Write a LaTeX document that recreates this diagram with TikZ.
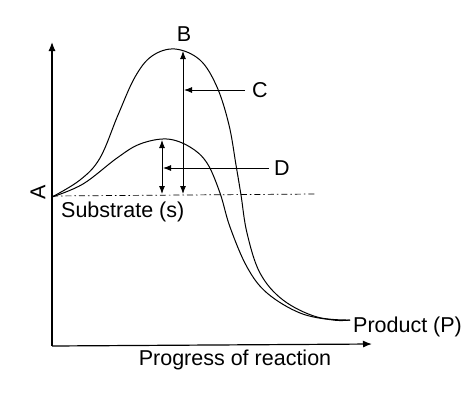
\documentclass[tikz,border=0pt]{standalone}
\usepackage{fontspec}
\setmainfont{Liberation Sans}
\usetikzlibrary{arrows.meta}
\tikzstyle{axis}=[draw,line width=1.2pt,-{Latex[length=9pt,width=7pt]}]
\tikzstyle{curve}=[draw,line width=1pt]
\tikzstyle{gap}=[draw,line width=0.9pt,{Latex[length=8pt,width=6pt]}-{Latex[length=8pt,width=6pt]}]
\tikzstyle{pointer}=[draw,line width=0.9pt,-{Latex[length=8pt,width=6pt]}]
\tikzstyle{label}=[inner sep=1pt]
\begin{document}
\begin{tikzpicture}[x=1pt,y=-1pt,font=\fontsize{21.5}{26}\selectfont]
                \useasboundingbox (0,0) rectangle (474,392);
                % axes
                \coordinate (O) at (52,346);
                \coordinate (Ytop) at (52,42);
                \coordinate (Xend) at (372,344);
                \path[axis] (O) -- (Ytop);
                \path[axis] (O) -- (Xend);
                % substrate level
                \coordinate (S) at (52,196);
                \coordinate (Send) at (316,194);
                \draw[line width=0.7pt,dash pattern=on 6pt off 3pt on 1.5pt off 3pt] (S) -- (Send);
                % energy curves
                \coordinate (P) at (350,320);
                \path[curve] plot[smooth,tension=0.6] coordinates {(52,197) (80,180) (100,158) (118,115) (135,77) (152,56) (175,49) (200,60) (217,87) (229,125) (236,165) (241,195) (247,233) (260,273) (283,300) (317,317) (350,320)};
                \path[curve] plot[smooth,tension=0.6] coordinates {(52,197) (83,184) (117,158) (140,144) (167,139) (190,147) (207,163) (220,193) (230,227) (247,267) (267,293) (300,313) (333,320) (350,320)};
                % activation energies
                \coordinate (Bbase) at (183,194);
                \coordinate (Btop) at (183,51);
                \coordinate (Dbase) at (162,194);
                \coordinate (Dtop) at (162,140);
                \path[gap] (Bbase) -- (Btop);
                \path[gap] (Dbase) -- (Dtop);
                % labels
                \node[label,rotate=90] (A) at (38,192) {A};
                \node[label] (B) at (184,34) {B};
                \node[label] (C) at (260,90) {C};
                \node[label] (D) at (282,168) {D};
                \node[label,anchor=west] (substrate) at (60,212) {Substrate (s)};
                \node[label,anchor=west] (product) at (352,327) {Product (P)};
                \node[label] (progress) at (235,360) {Progress of reaction};
                \coordinate (Ctip) at (184,90);
                \coordinate (Dtip) at (163,168);
                \path[pointer] (C.west) ++(-6,0) -- (Ctip);
                \path[pointer] (D.west) ++(-4,0) -- (Dtip);
            \end{tikzpicture}
\end{document}
